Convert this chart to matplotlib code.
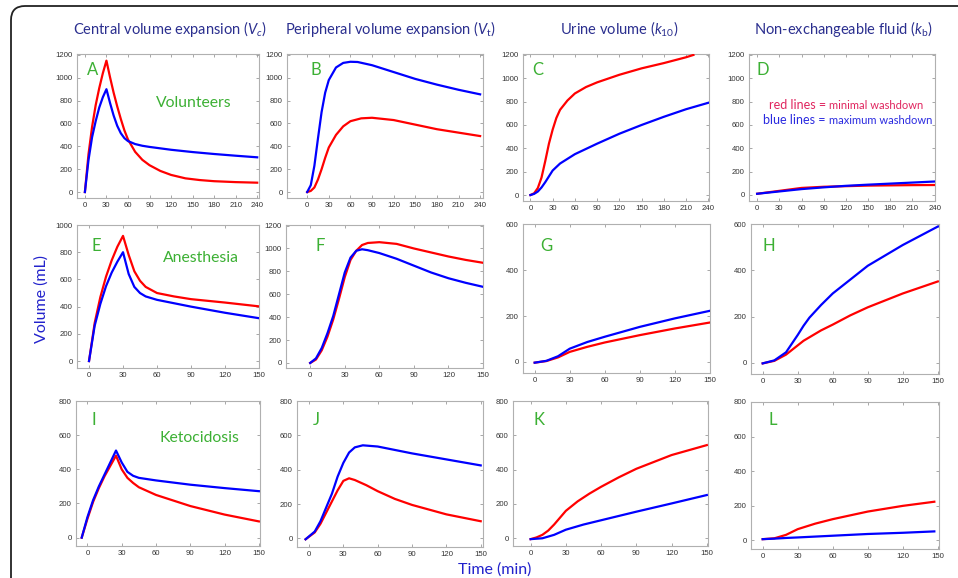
import matplotlib
matplotlib.use("Agg")
import matplotlib.pyplot as plt
from matplotlib.patches import FancyBboxPatch
from matplotlib.transforms import IdentityTransform

W, H = 958, 578
RED = "#ff0000"
BLUE = "#0000ff"
GREEN = "#3cb034"
TITLE_C = "#2b2f8f"
AX_C = "#2222cc"

col_titles = ["Central volume expansion ($\\mathit{V}_{c}$)",
              "Peripheral volume expansion ($\\mathit{V}_{\\mathrm{t}}$)",
              "Urine volume ($\\mathit{k}_{10}$)",
              "Non-exchangeable fluid ($\\mathit{k}_{\\mathrm{b}}$)"]
panel_letters = ["A", "B", "C", "D", "E", "F", "G", "H", "I", "J", "K", "L"]
group_labels = ["Volunteers", "Anesthesia", "Ketocidosis"]
x_ticks_row1 = [0, 30, 60, 90, 120, 150, 180, 210, 240]
x_ticks_rows23 = [0, 30, 60, 90, 120, 150]

# ---- Panel A: central volume, volunteers ----
tA_red = [0, 5, 10, 15, 20, 25, 30, 35, 40, 45, 50, 55, 60, 70, 80, 90, 105, 120, 140, 160, 180, 210, 240]
vA_red = [0, 330, 570, 760, 910, 1040, 1150, 1005, 870, 750, 640, 540, 460, 352, 282, 235, 185, 150, 120, 105, 95, 87, 82]
tA_blue = [0, 5, 10, 15, 20, 25, 30, 35, 40, 45, 50, 55, 60, 70, 80, 90, 120, 150, 180, 210, 240]
vA_blue = [0, 280, 480, 620, 740, 830, 900, 780, 670, 580, 515, 472, 446, 420, 405, 395, 370, 350, 333, 318, 304]

# ---- Panel B: peripheral volume, volunteers ----
tB_blue = [0, 5, 10, 15, 20, 25, 30, 40, 50, 60, 70, 90, 120, 150, 180, 210, 240]
vB_blue = [0, 60, 230, 470, 700, 870, 980, 1090, 1130, 1140, 1138, 1110, 1050, 990, 940, 895, 855]
tB_red = [0, 5, 10, 15, 20, 25, 30, 40, 50, 60, 75, 90, 120, 150, 180, 210, 240]
vB_red = [0, 10, 40, 110, 200, 300, 390, 500, 575, 620, 645, 650, 630, 590, 550, 520, 490]

# ---- Panel C: urine volume, volunteers ----
tC_red = [0, 5, 10, 15, 20, 25, 30, 35, 40, 50, 60, 75, 90, 120, 150, 180, 210, 220]
vC_red = [0, 15, 60, 150, 290, 440, 560, 660, 730, 810, 870, 925, 965, 1030, 1085, 1130, 1180, 1200]
tC_blue = [0, 5, 10, 15, 20, 25, 30, 40, 60, 90, 120, 150, 180, 210, 240]
vC_blue = [0, 10, 30, 65, 110, 160, 210, 270, 350, 440, 525, 600, 670, 735, 790]

# ---- Panel D: non-exchangeable fluid, volunteers ----
tD = [0, 30, 60, 90, 120, 150, 180, 210, 240]
vD_red = [10, 35, 60, 70, 75, 80, 82, 84, 85]
vD_blue = [10, 30, 50, 65, 78, 88, 97, 106, 115]

# ---- Panel E: central volume, anesthesia ----
tE = [0, 5, 10, 15, 20, 25, 30, 35, 40, 45, 50, 60, 75, 90, 120, 150]
vE_red = [0, 280, 470, 620, 740, 840, 920, 780, 660, 590, 545, 500, 475, 455, 430, 402]
vE_blue = [0, 260, 420, 550, 650, 730, 800, 640, 545, 500, 475, 450, 425, 400, 355, 315]

# ---- Panel F: peripheral volume, anesthesia ----
tF = [0, 5, 10, 15, 20, 25, 30, 35, 40, 45, 50, 60, 75, 90, 105, 120, 135, 150]
vF_blue = [0, 40, 130, 260, 410, 600, 790, 920, 980, 993, 985, 960, 910, 850, 790, 740, 700, 665]
vF_red = [0, 30, 110, 230, 380, 560, 750, 900, 980, 1030, 1048, 1055, 1040, 1000, 965, 930, 900, 875]

# ---- Panel G: urine volume, anesthesia ----
tG = [0, 10, 20, 30, 45, 60, 90, 120, 150]
vG_blue = [-3, 5, 25, 58, 87, 110, 153, 190, 223]
vG_red = [-3, 4, 20, 44, 66, 85, 117, 146, 172]

# ---- Panel H: non-exchangeable fluid, anesthesia ----
tH = [0, 10, 20, 30, 35, 40, 50, 60, 75, 90, 120, 150]
vH_blue = [-3, 10, 45, 120, 160, 195, 250, 300, 360, 420, 510, 590]
vH_red = [-3, 8, 35, 75, 95, 110, 140, 165, 205, 240, 300, 352]

# ---- Panel I: central volume, ketoacidosis ----
tI = [-5, 0, 5, 10, 15, 20, 25, 30, 35, 40, 45, 60, 90, 120, 150]
vI_blue = [0, 120, 220, 300, 370, 440, 510, 440, 385, 362, 350, 335, 310, 290, 272]
vI_red = [0, 110, 210, 290, 360, 420, 480, 400, 350, 320, 295, 250, 185, 135, 95]

# ---- Panel J: peripheral volume, ketoacidosis ----
tJ_blue = [-3, 5, 10, 15, 20, 25, 30, 35, 40, 47, 60, 75, 90, 120, 150]
vJ_blue = [-5, 40, 100, 180, 260, 360, 440, 500, 530, 542, 535, 515, 495, 460, 425]
tJ_red = [-3, 5, 10, 15, 20, 25, 30, 35, 40, 50, 60, 75, 90, 120, 150]
vJ_red = [-5, 35, 85, 150, 215, 280, 335, 350, 340, 310, 275, 230, 195, 140, 100]

# ---- Panel K: urine volume, ketoacidosis ----
tK_red = [0, 5, 10, 15, 20, 25, 30, 40, 50, 60, 75, 90, 120, 150]
vK_red = [-5, 5, 20, 45, 80, 120, 160, 215, 260, 300, 355, 405, 485, 543]
tK_blue = [0, 10, 20, 30, 45, 60, 90, 120, 150]
vK_blue = [-5, 0, 20, 50, 80, 105, 155, 203, 252]

# ---- Panel L: non-exchangeable fluid, ketoacidosis ----
tL = [0, 10, 20, 30, 45, 60, 90, 120, 147]
vL_red = [5, 10, 30, 63, 95, 121, 165, 198, 222]
vL_blue = [5, 8, 12, 15, 20, 25, 35, 42, 50]

plt.rcParams['font.family'] = ['Lato', 'DejaVu Sans']
plt.rcParams['mathtext.fontset'] = 'custom'
plt.rcParams['mathtext.it'] = 'Lato:italic'
plt.rcParams['mathtext.rm'] = 'Lato'

fig = plt.figure(figsize=(W / 100, H / 100), dpi=100)

# frame
border = FancyBboxPatch((11, -40), 1100, H - 6 + 40, boxstyle="round,pad=0,rounding_size=14",
                        transform=IdentityTransform(), fill=False, edgecolor="#222222", linewidth=1.3)
fig.add_artist(border)

# axes boxes (left, right, top, bottom) in pixels
boxes = [
    (77, 259, 54, 198), (287, 483, 54, 198), (523, 709, 54, 201), (749, 935, 54, 201),
    (77, 259, 225, 368), (286, 483, 225, 368), (523, 710, 224, 373), (751, 939, 224, 374),
    (76, 260, 401, 546), (297, 483, 401, 547), (513, 708, 401, 546), (751, 939, 402, 549),
]
xlims = [(-11, 242.5), (-28, 244), (-10, 241), (-11, 240.5),
         (-10.6, 150), (-21, 150), (-10, 150), (-10, 151),
         (-10, 151), (-10.5, 152), (-15, 151), (-10, 151)]
ylims = [(-52, 1208), (-52, 1208), (-51, 1208), (-52, 1208),
         (-51, 1000), (-44, 1205), (-48, 601), (-49, 601),
         (-49, 800), (-50, 800), (-45, 800), (-52, 800)]
yticks = [[0, 200, 400, 600, 800, 1000, 1200]] * 4 + \
         [[0, 200, 400, 600, 800, 1000], [0, 200, 400, 600, 800, 1000, 1200], [0, 200, 400, 600], [0, 200, 400, 600]] + \
         [[0, 200, 400, 600, 800]] * 4

series = [
    [(tA_red, vA_red, RED), (tA_blue, vA_blue, BLUE)],
    [(tB_red, vB_red, RED), (tB_blue, vB_blue, BLUE)],
    [(tC_red, vC_red, RED), (tC_blue, vC_blue, BLUE)],
    [(tD, vD_red, RED), (tD, vD_blue, BLUE)],
    [(tE, vE_red, RED), (tE, vE_blue, BLUE)],
    [(tF, vF_red, RED), (tF, vF_blue, BLUE)],
    [(tG, vG_red, RED), (tG, vG_blue, BLUE)],
    [(tH, vH_red, RED), (tH, vH_blue, BLUE)],
    [(tI, vI_red, RED), (tI, vI_blue, BLUE)],
    [(tJ_red, vJ_red, RED), (tJ_blue, vJ_blue, BLUE)],
    [(tK_red, vK_red, RED), (tK_blue, vK_blue, BLUE)],
    [(tL, vL_red, RED), (tL, vL_blue, BLUE)],
]
letter_pos = [(93, 70), (316, 70), (538, 70), (763, 70),
              (96, 246), (320, 246), (546, 246), (769, 246),
              (94, 420), (316, 420), (539, 420), (773, 420)]

axes = []
for i, (l, r, t, b) in enumerate(boxes):
    ax = fig.add_axes([l / W, 1 - b / H, (r - l) / W, (b - t) / H])
    for s, (tt, vv, c) in enumerate(series[i]):
        ax.plot(tt, vv, color=c, lw=1.6, solid_joinstyle='round', zorder=3 + s)
    ax.set_xlim(*xlims[i])
    ax.set_ylim(*ylims[i])
    ax.set_xticks(x_ticks_row1 if i < 4 else x_ticks_rows23)
    ax.set_yticks(yticks[i])
    ax.tick_params(direction='in', length=2.5, width=0.6, color='#999999',
                   labelsize=5.6, labelcolor='#333333', pad=3,
                   top=True, right=True)
    for sp in ax.spines.values():
        sp.set_color('#b0b0b0')
        sp.set_linewidth(0.8)
    for lab in ax.get_xticklabels() + ax.get_yticklabels():
        lab.set_family(['Liberation Sans', 'DejaVu Sans'])
    axes.append(ax)
    fig.text(letter_pos[i][0] / W, 1 - letter_pos[i][1] / H, panel_letters[i],
             color=GREEN, fontsize=12, ha='center', va='center')

# column titles
title_x = [170, 391, 619, 843]
for x, s in zip(title_x, col_titles):
    fig.text(x / W, 1 - 29 / H, s, color=TITLE_C, fontsize=10.5, ha='center', va='center')

# group labels
for (x, y), s in zip([(194, 103), (201, 258), (199, 438)], group_labels):
    fig.text(x / W, 1 - y / H, s, color=GREEN, fontsize=11.3, ha='center', va='center')

# legend text in panel D
t1 = fig.text(769 / W, 1 - 105 / H, "red lines = ", color="#e0245e", fontsize=9, ha='left', va='center')
axes[3].annotate("minimal washdown", xy=(1, 0), xycoords=t1, va='bottom', ha='left',
                 color="#e0245e", fontsize=8)
t2 = fig.text(763 / W, 1 - 120 / H, "blue lines = ", color="#2a2ae0", fontsize=9, ha='left', va='center')
axes[3].annotate("maximum washdown", xy=(1, 0), xycoords=t2, va='bottom', ha='left',
                 color="#2a2ae0", fontsize=8)

# shared axis labels
fig.text(42 / W, 1 - 299 / H, "Volume (mL)", color=AX_C, fontsize=11.5, rotation=90,
         ha='center', va='center')
fig.text(495 / W, 1 - 570 / H, "Time (min)", color=AX_C, fontsize=11.5, ha='center', va='center')

fig.savefig("out.png", dpi=100)
